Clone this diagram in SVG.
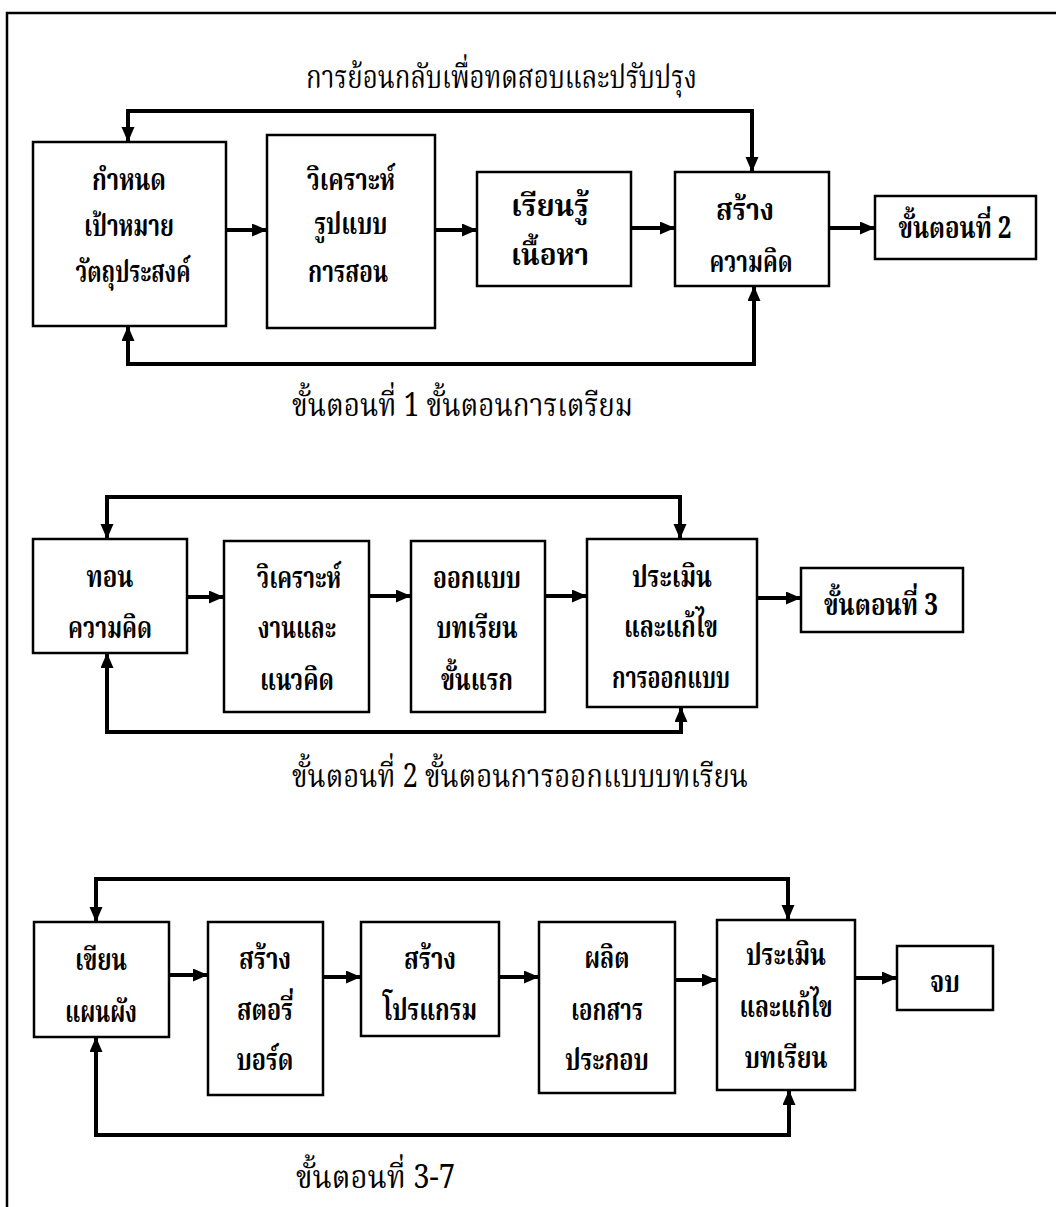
<svg xmlns="http://www.w3.org/2000/svg" width="1056" height="1207" viewBox="0 0 1056 1207">
<defs>
<style>
.box{fill:#fff;stroke:#000;stroke-width:2.5}
.lbl{font-family:"Noto Serif Thai","Noto Sans Thai","Norasi","Garuda","Loma","Liberation Serif",serif;font-weight:bold;font-size:30px;text-anchor:middle;fill:#000}
.cap{font-family:"Noto Serif Thai","Noto Sans Thai","Norasi","Garuda","Loma","Liberation Serif",serif;font-size:32px;fill:#000}
.fb{fill:none;stroke:#000;stroke-width:4;marker-start:url(#ah);marker-end:url(#ah)}
.ar{fill:none;stroke:#000;stroke-width:4;marker-end:url(#ah)}
.frame{fill:none;stroke:#000;stroke-width:2.5}
</style>
<marker id="ah" markerUnits="userSpaceOnUse" markerWidth="16" markerHeight="14" refX="15" refY="6.5" orient="auto-start-reverse">
<path d="M0,0 L15,6.5 L0,13 z" fill="#000"/>
</marker>
</defs>
<rect width="1056" height="1207" fill="#fff"/>
<path class="frame" d="M7,1207 V13 H1056"/>

<g id="captions">
<text class="cap" x="306" y="88" textLength="391" lengthAdjust="spacingAndGlyphs">การย้อนกลับเพื่อทดสอบและปรับปรุง</text>
<text class="cap" x="292" y="416" textLength="341" lengthAdjust="spacingAndGlyphs">ขั้นตอนที่ 1 ขั้นตอนการเตรียม</text>
<text class="cap" x="292" y="787" textLength="456" lengthAdjust="spacingAndGlyphs">ขั้นตอนที่ 2 ขั้นตอนการออกแบบบทเรียน</text>
<text class="cap" x="296" y="1188" textLength="159" lengthAdjust="spacingAndGlyphs">ขั้นตอนที่ 3-7</text>
</g>

<g id="connectors">
<path class="fb" d="M128,142 V111 H752 V172"/>
<path class="fb" d="M128,326 V364 H754 V286"/>
<line class="ar" x1="226" y1="230" x2="267" y2="230"/>
<line class="ar" x1="435" y1="230" x2="477" y2="230"/>
<line class="ar" x1="631" y1="228" x2="675" y2="228"/>
<line class="ar" x1="829" y1="228" x2="875" y2="228"/>

<path class="fb" d="M107,539 V497 H680 V539"/>
<path class="fb" d="M107,653 V732 H681 V707"/>
<line class="ar" x1="187" y1="597" x2="224" y2="597"/>
<line class="ar" x1="369" y1="596" x2="411" y2="596"/>
<line class="ar" x1="545" y1="596" x2="587" y2="596"/>
<line class="ar" x1="757" y1="598" x2="801" y2="598"/>

<path class="fb" d="M96,922 V879 H788 V920"/>
<path class="fb" d="M96,1037 V1135 H789 V1090"/>
<line class="ar" x1="169" y1="975" x2="208" y2="975"/>
<line class="ar" x1="323" y1="977" x2="361" y2="977"/>
<line class="ar" x1="499" y1="977" x2="539" y2="977"/>
<line class="ar" x1="675" y1="980" x2="717" y2="980"/>
<line class="ar" x1="855" y1="978" x2="897" y2="978"/>
</g>

<g id="n1a"><rect class="box" x="33" y="142" width="193" height="184"/>
<text class="lbl" x="129" y="190" textLength="74" lengthAdjust="spacingAndGlyphs">กำหนด</text>
<text class="lbl" x="129" y="236" textLength="90" lengthAdjust="spacingAndGlyphs">เป้าหมาย</text>
<text class="lbl" x="133" y="282" textLength="115" lengthAdjust="spacingAndGlyphs">วัตถุประสงค์</text></g>
<g id="n1b"><rect class="box" x="267" y="135" width="168" height="193"/>
<text class="lbl" x="351" y="190" textLength="88" lengthAdjust="spacingAndGlyphs">วิเคราะห์</text>
<text class="lbl" x="351" y="234" textLength="73" lengthAdjust="spacingAndGlyphs">รูปแบบ</text>
<text class="lbl" x="348" y="282" textLength="80" lengthAdjust="spacingAndGlyphs">การสอน</text></g>
<g id="n1c"><rect class="box" x="477" y="172" width="154" height="114"/>
<text class="lbl" x="550" y="216" textLength="78" lengthAdjust="spacingAndGlyphs">เรียนรู้</text>
<text class="lbl" x="550" y="265" textLength="78" lengthAdjust="spacingAndGlyphs">เนื้อหา</text></g>
<g id="n1d"><rect class="box" x="675" y="172" width="154" height="114"/>
<text class="lbl" x="745" y="220" textLength="58" lengthAdjust="spacingAndGlyphs">สร้าง</text>
<text class="lbl" x="751" y="272" textLength="83" lengthAdjust="spacingAndGlyphs">ความคิด</text></g>
<g id="n1e"><rect class="box" x="875" y="196" width="161" height="63"/>
<text class="lbl" x="955" y="238" textLength="113" lengthAdjust="spacingAndGlyphs">ขั้นตอนที่ 2</text></g>

<g id="n2a"><rect class="box" x="33" y="539" width="154" height="114"/>
<text class="lbl" x="110" y="587" textLength="47" lengthAdjust="spacingAndGlyphs">ทอน</text>
<text class="lbl" x="110" y="638" textLength="84" lengthAdjust="spacingAndGlyphs">ความคิด</text></g>
<g id="n2b"><rect class="box" x="224" y="541" width="145" height="171"/>
<text class="lbl" x="299" y="588" textLength="84" lengthAdjust="spacingAndGlyphs">วิเคราะห์</text>
<text class="lbl" x="297" y="638" textLength="78" lengthAdjust="spacingAndGlyphs">งานและ</text>
<text class="lbl" x="297" y="690" textLength="74" lengthAdjust="spacingAndGlyphs">แนวคิด</text></g>
<g id="n2c"><rect class="box" x="411" y="541" width="134" height="171"/>
<text class="lbl" x="477" y="588" textLength="88" lengthAdjust="spacingAndGlyphs">ออกแบบ</text>
<text class="lbl" x="477" y="638" textLength="81" lengthAdjust="spacingAndGlyphs">บทเรียน</text>
<text class="lbl" x="477" y="690" textLength="72" lengthAdjust="spacingAndGlyphs">ขั้นแรก</text></g>
<g id="n2d"><rect class="box" x="587" y="539" width="170" height="168"/>
<text class="lbl" x="672" y="587" textLength="80" lengthAdjust="spacingAndGlyphs">ประเมิน</text>
<text class="lbl" x="671" y="637" textLength="94" lengthAdjust="spacingAndGlyphs">และแก้ไข</text>
<text class="lbl" x="671" y="688" textLength="118" lengthAdjust="spacingAndGlyphs">การออกแบบ</text></g>
<g id="n2e"><rect class="box" x="801" y="568" width="162" height="64"/>
<text class="lbl" x="881" y="615" textLength="114" lengthAdjust="spacingAndGlyphs">ขั้นตอนที่ 3</text></g>

<g id="n3a"><rect class="box" x="34" y="922" width="135" height="115"/>
<text class="lbl" x="101" y="970" textLength="52" lengthAdjust="spacingAndGlyphs">เขียน</text>
<text class="lbl" x="101" y="1022" textLength="72" lengthAdjust="spacingAndGlyphs">แผนผัง</text></g>
<g id="n3b"><rect class="box" x="208" y="922" width="115" height="173"/>
<text class="lbl" x="265" y="969" textLength="52" lengthAdjust="spacingAndGlyphs">สร้าง</text>
<text class="lbl" x="265" y="1020" textLength="56" lengthAdjust="spacingAndGlyphs">สตอรี่</text>
<text class="lbl" x="265" y="1070" textLength="57" lengthAdjust="spacingAndGlyphs">บอร์ด</text></g>
<g id="n3c"><rect class="box" x="361" y="922" width="138" height="114"/>
<text class="lbl" x="430" y="969" textLength="52" lengthAdjust="spacingAndGlyphs">สร้าง</text>
<text class="lbl" x="430" y="1020" textLength="94" lengthAdjust="spacingAndGlyphs">โปรแกรม</text></g>
<g id="n3d"><rect class="box" x="539" y="922" width="136" height="171"/>
<text class="lbl" x="607" y="968" textLength="45" lengthAdjust="spacingAndGlyphs">ผลิต</text>
<text class="lbl" x="607" y="1020" textLength="72" lengthAdjust="spacingAndGlyphs">เอกสาร</text>
<text class="lbl" x="607" y="1070" textLength="84" lengthAdjust="spacingAndGlyphs">ประกอบ</text></g>
<g id="n3e"><rect class="box" x="717" y="920" width="138" height="170"/>
<text class="lbl" x="786" y="965" textLength="80" lengthAdjust="spacingAndGlyphs">ประเมิน</text>
<text class="lbl" x="786" y="1017" textLength="93" lengthAdjust="spacingAndGlyphs">และแก้ไข</text>
<text class="lbl" x="786" y="1068" textLength="83" lengthAdjust="spacingAndGlyphs">บทเรียน</text></g>
<g id="n3f"><rect class="box" x="897" y="946" width="96" height="64"/>
<text class="lbl" x="945" y="992" textLength="30" lengthAdjust="spacingAndGlyphs">จบ</text></g>
</svg>
